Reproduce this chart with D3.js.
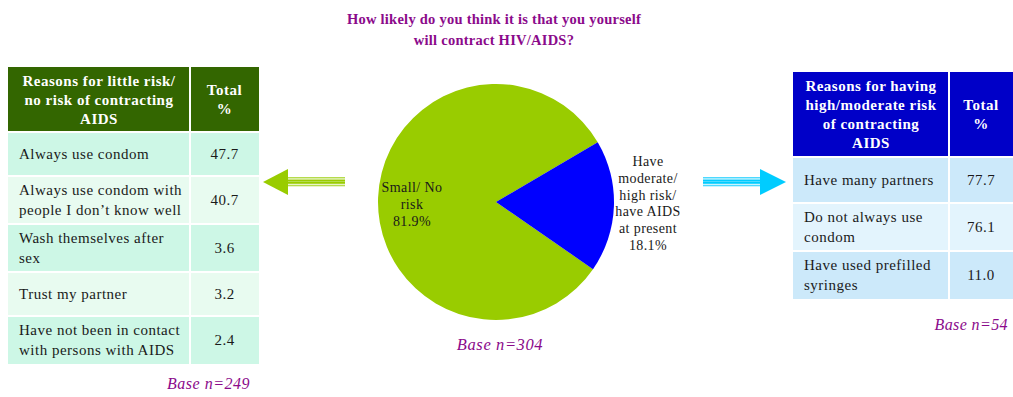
<!DOCTYPE html>
<html>
<head>
<meta charset="utf-8">
<script src="https://cdn.jsdelivr.net/npm/d3@7"></script>
<style>
  html, body { margin: 0; padding: 0; background: #ffffff; }
  svg { display: block; }
</style>
</head>
<body>
<svg id="chart" width="1013" height="397"></svg>
<script>
// Survey question and overall split
const title = ["How likely do you think it is that you yourself", "will contract HIV/AIDS?"];
const pieLabels = ["Small/ No\nrisk", "Have\nmoderate/\nhigh risk/\nhave AIDS\nat present"];
const pieValues = [81.9, 18.1];
const pieBase = "Base n=304";

// Reasons given by those at little / no risk
const lowHeader = ["Reasons for little risk/\nno risk of contracting\nAIDS", "Total\n%"];
const lowReasons = [
  "Always use condom",
  "Always use condom with\npeople I don\u2019t know well",
  "Wash themselves after\nsex",
  "Trust my partner",
  "Have not been in contact\nwith persons with AIDS"
];
const lowValues = [47.7, 40.7, 3.6, 3.2, 2.4];
const lowBase = "Base n=249";

// Reasons given by those at high / moderate risk
const highHeader = ["Reasons for having\nhigh/moderate risk\nof contracting\nAIDS", "Total\n%"];
const highReasons = [
  "Have many partners",
  "Do not always use\ncondom",
  "Have used prefilled\nsyringes"
];
const highValues = [77.7, 76.1, 11.0];
const highBase = "Base n=54";

const svg = d3.select("#chart");
const root = svg.append("g")
  .attr("font-family", "'Liberation Serif', 'Times New Roman', 'DejaVu Serif', serif");
const purple = "#8b0a8b";

// ---- Title ----
root.append("text")
  .attr("text-anchor", "middle")
  .attr("font-weight", "bold").attr("font-size", 14.5)
  .attr("letter-spacing", 0.25)
  .attr("fill", purple)
  .selectAll("tspan").data(title).join("tspan")
  .attr("x", 494).attr("y", (d, i) => 24 + i * 21)
  .text(d => d);

// ---- Pie ----
const cx = 496, cy = 202, r = 118;
const pieColors = d3.scaleOrdinal().domain(pieLabels).range(["#99cc00", "#0000ff"]);
const start = 124.7 * Math.PI / 180;
const pie = d3.pie().sort(null).startAngle(start).endAngle(start + 2 * Math.PI);
const arcs = pie(pieValues);
const arc = d3.arc().innerRadius(0).outerRadius(r);
const pg = root.append("g").attr("transform", `translate(${cx},${cy})`);
pg.selectAll("path").data(arcs).join("path")
  .attr("d", arc)
  .attr("fill", (d, i) => pieColors(pieLabels[i]));

// slice labels (name lines + percentage)
const labelPos = [[-84, -10], [152, -36]];
arcs.forEach((a, i) => {
  const lines = pieLabels[i].split("\n").concat([d3.format(".1f")(pieValues[i]) + "%"]);
  pg.append("text")
    .attr("text-anchor", "middle")
    .attr("font-size", 14).attr("letter-spacing", 0.4)
    .attr("fill", "#1a1a1a")
    .selectAll("tspan").data(lines).join("tspan")
    .attr("x", labelPos[i][0])
    .attr("y", (d, j) => labelPos[i][1] + j * (i ? 16.8 : 17))
    .text(d => d);
});

root.append("text")
  .attr("x", 500).attr("y", 350)
  .attr("text-anchor", "middle")
  .attr("font-style", "italic").attr("font-size", 16.5).attr("letter-spacing", 0.6)
  .attr("fill", purple)
  .text(pieBase);

// ---- Tables ----
function drawTable(opts) {
  const g = root.append("g");
  const { x0, x1, x2, top, headH, header, reasons, values, headColor, rowColors, oneLineH, twoLineH } = opts;
  // header
  g.append("rect").attr("x", x0).attr("y", top).attr("width", x2 - x0).attr("height", headH)
    .attr("fill", headColor);
  [[header[0], (x0 + x1) / 2], [header[1], (x1 + x2) / 2]].forEach(([txt, hx]) => {
    const lines = txt.split("\n");
    const lh = 19;
    const y0 = top + headH / 2 - (lines.length - 1) * lh / 2 + 5;
    g.append("text").attr("text-anchor", "middle")
      .attr("font-weight", "bold").attr("font-size", 15).attr("letter-spacing", 0.5)
      .attr("fill", "#ffffff")
      .selectAll("tspan").data(lines).join("tspan")
      .attr("x", hx).attr("y", (d, j) => y0 + j * lh).text(d => d);
  });
  // body rows
  const heights = reasons.map(s => s.includes("\n") ? twoLineH : oneLineH);
  const ys = d3.cumsum([top + headH].concat(heights));
  const fmt = d3.format(".1f");
  reasons.forEach((s, i) => {
    const y = ys[i], h = heights[i];
    g.append("rect").attr("x", x0).attr("y", y).attr("width", x2 - x0).attr("height", h)
      .attr("fill", rowColors[i % 2]);
    const lines = s.split("\n");
    const lh = 19.5;
    const y0 = y + h / 2 - (lines.length - 1) * lh / 2 + 5;
    g.append("text").attr("font-size", 15).attr("letter-spacing", 0.5).attr("fill", "#1a1a1a")
      .selectAll("tspan").data(lines).join("tspan")
      .attr("x", x0 + 11).attr("y", (d, j) => y0 + j * lh).text(d => d);
    g.append("text").attr("font-size", 15).attr("letter-spacing", 0.5).attr("fill", "#1a1a1a")
      .attr("text-anchor", "middle")
      .attr("x", (x1 + x2) / 2).attr("y", y + h / 2 + 5)
      .text(fmt(values[i]));
  });
  // white cell separators
  const bottom = ys[ys.length - 1];
  g.append("line").attr("x1", x1).attr("x2", x1).attr("y1", top).attr("y2", bottom)
    .attr("stroke", "#ffffff").attr("stroke-width", 2);
  ys.slice(0, -1).forEach(y => {
    g.append("line").attr("x1", x0).attr("x2", x2).attr("y1", y).attr("y2", y)
      .attr("stroke", "#ffffff").attr("stroke-width", 2);
  });
  return bottom;
}

drawTable({
  x0: 8, x1: 190, x2: 259, top: 67, headH: 65,
  header: lowHeader, reasons: lowReasons, values: lowValues,
  headColor: "#336600", rowColors: ["#cdf7e6", "#e8fbf0"],
  oneLineH: 44, twoLineH: 48
});
root.append("text")
  .attr("x", 250).attr("y", 389).attr("text-anchor", "end")
  .attr("font-style", "italic").attr("font-size", 16).attr("letter-spacing", 0.5)
  .attr("fill", purple)
  .text(lowBase);

drawTable({
  x0: 793, x1: 949, x2: 1013, top: 72, headH: 85,
  header: highHeader, reasons: highReasons, values: highValues,
  headColor: "#0000c8", rowColors: ["#cce9fa", "#e3f4fd"],
  oneLineH: 46, twoLineH: 48
});
root.append("text")
  .attr("x", 1008).attr("y", 330).attr("text-anchor", "end")
  .attr("font-style", "italic").attr("font-size", 16).attr("letter-spacing", 0.4)
  .attr("fill", purple)
  .text(highBase);

// ---- Arrows ----
function arrow(tipX, baseX, tailX, y, color, light) {
  const g = root.append("g");
  const sx = Math.min(baseX, tailX), sw = Math.abs(tailX - baseX);
  // striped shaft
  g.append("rect").attr("x", sx).attr("y", y - 5).attr("width", sw).attr("height", 1.5).attr("fill", light);
  g.append("rect").attr("x", sx).attr("y", y - 2.5).attr("width", sw).attr("height", 1.5).attr("fill", color);
  g.append("rect").attr("x", sx).attr("y", y - 1).attr("width", sw).attr("height", 1).attr("fill", light);
  g.append("rect").attr("x", sx).attr("y", y).attr("width", sw).attr("height", 1.8).attr("fill", color);
  g.append("rect").attr("x", sx).attr("y", y + 2.7).attr("width", sw).attr("height", 1.6).attr("fill", light);
  g.append("path")
    .attr("d", d3.line()([[tipX, y], [baseX, y - 13], [baseX, y + 13]]) + "Z")
    .attr("fill", color);
}
arrow(263, 288, 345, 182, "#99cc00", "#b5db4d");
arrow(786, 760, 703, 182, "#00ccff", "#4dd9ff");
</script>
</body>
</html>
